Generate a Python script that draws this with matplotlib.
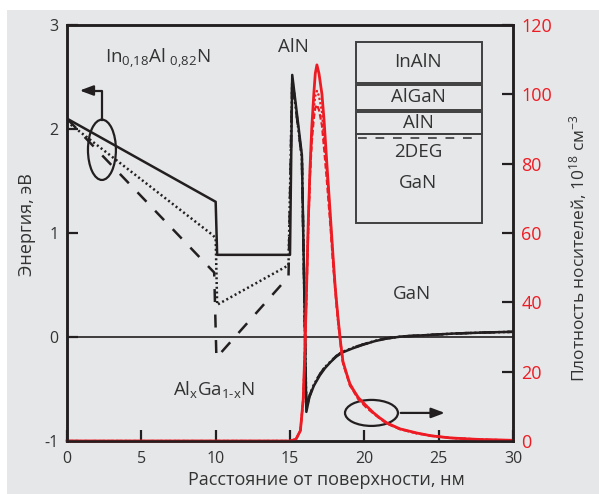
import matplotlib
matplotlib.use("Agg")
import matplotlib.pyplot as plt
from matplotlib.patches import Rectangle, Ellipse

plt.rcParams['font.family'] = ['Open Sans', 'DejaVu Sans']
plt.rcParams['mathtext.fontset'] = 'custom'
plt.rcParams['mathtext.rm'] = 'Open Sans'
plt.rcParams['mathtext.it'] = 'Open Sans'

# ---- data ----
# black (energy, left axis)
x_solid = [0, 10.0, 10.1, 15.0, 15.15, 15.8, 16.1, 16.3, 16.6, 17.0, 17.35, 17.7, 18.1, 18.5, 19.2, 19.9, 20.7, 21.5, 22.5, 24.4, 26, 28, 30]
e_solid = [2.10, 1.30, 0.79, 0.79, 2.52, 1.75, -0.72, -0.58, -0.47, -0.37, -0.30, -0.245, -0.19, -0.15, -0.11, -0.075, -0.04, -0.015, 0.005, 0.02, 0.033, 0.043, 0.05]

x_dot = [0, 9.8, 10.0, 10.1, 14.9, 15.15, 15.8, 16.1, 16.3, 16.6, 17.0, 17.35, 17.7, 18.1, 18.5, 19.2, 19.9, 20.7, 21.5, 22.5, 24.4, 26, 28, 30]
e_dot = [2.07, 0.98, 0.95, 0.31, 0.69, 2.48, 1.72, -0.70, -0.57, -0.46, -0.36, -0.29, -0.24, -0.185, -0.145, -0.105, -0.072, -0.038, -0.013, 0.005, 0.02, 0.033, 0.043, 0.05]

x_dash = [0, 9.9, 10.05, 14.9, 15.15, 15.8, 16.1, 16.3, 16.6, 17.0, 17.35, 17.7, 18.1, 18.5, 19.2, 19.9, 20.7, 21.5, 22.5, 24.4, 26, 28, 30]
e_dash = [2.10, 0.62, -0.20, 0.58, 2.48, 1.72, -0.70, -0.57, -0.46, -0.36, -0.29, -0.24, -0.185, -0.145, -0.105, -0.072, -0.038, -0.013, 0.005, 0.02, 0.033, 0.043, 0.05]

# red (carrier density, right axis)
x_n = [0, 15.0, 15.4, 15.7, 15.89, 16.0, 16.12, 16.22, 16.34, 16.46, 16.6, 16.7, 16.81, 16.95, 17.15, 17.3, 17.48, 17.7, 17.9, 18.05, 18.22, 18.4, 18.56, 18.8, 19.03, 19.3, 19.6, 20.17, 20.6, 21.0, 21.52, 22.4, 23.54, 24.5, 25.76, 27, 28, 30]
n_solid = [0, 0, 0.5, 3, 12, 26, 45, 62, 78, 90, 100, 106, 108.5, 106, 100, 92, 80, 66, 53, 44, 36, 28.5, 23, 19.5, 16.5, 14.5, 12.5, 10, 8.2, 6.8, 5.2, 3.5, 2.3, 1.5, 0.9, 0.6, 0.4, 0.2]
n_dash = [0, 0, 0.5, 3, 12, 25, 44, 60, 76, 86, 93, 96, 97, 95.5, 91, 84, 75, 63, 51, 43, 35, 28, 22.5, 19.2, 16, 14.2, 12, 9.5, 8.0, 6.6, 5.0, 3.4, 2.2, 1.5, 0.9, 0.6, 0.4, 0.2]
n_dot = [0, 0, 0.5, 3, 12, 26, 45, 61, 77, 88, 96, 99.5, 101, 99.5, 95, 87, 78, 65, 52, 43.5, 35.5, 28.3, 22.8, 19.4, 16.2, 14.3, 12.2, 9.8, 8.1, 6.7, 5.1, 3.45, 2.2, 1.5, 0.9, 0.6, 0.4, 0.2]

x_ticks = [0, 5, 10, 15, 20, 25, 30]
y_ticks = [-1, 0, 1, 2, 3]
n_ticks = [0, 20, 40, 60, 80, 100, 120]

BLACK = '#231f20'
RED = '#ed1c24'
BG = '#e6e7e8'
BOXC = '#404040'

fig = plt.figure(figsize=(5.99, 4.94), dpi=100)
fig.patch.set_facecolor('white')
fig.patches.append(Rectangle((7/599, 0), 1 - 7/599, 484/494, transform=fig.transFigure,
                             facecolor=BG, edgecolor='none', zorder=-10))

ax = fig.add_axes([67/599, 53/494, 446/599, 416/494])
ax.set_facecolor(BG)
ax.set_xlim(0, 30)
ax.set_ylim(-1, 3)

ax.axhline(0, color=BLACK, lw=1.2, zorder=1)
ax.plot(x_dash, e_dash, color=BLACK, lw=1.8, linestyle=(0, (5.2, 5.0)), zorder=2)
ax.plot(x_dot, e_dot, color=BLACK, lw=1.8, linestyle=(0, (0.8, 1.1)), zorder=2)
ax.plot(x_solid, e_solid, color=BLACK, lw=1.8, zorder=3, solid_joinstyle='round')

for s in ax.spines.values():
    s.set_linewidth(1.8)
    s.set_color(BLACK)
ax.set_xticks(x_ticks)
ax.set_yticks(y_ticks)
ax.set_xticklabels([str(v) for v in x_ticks])
ax.set_yticklabels([str(v) for v in y_ticks])
ax.tick_params(direction='in', length=8, width=1.6, color=BLACK, labelsize=11.5,
               labelcolor='#333333', pad=7)
ax.tick_params(axis='y', pad=6)

ax2 = ax.twinx()
ax2.set_ylim(0, 120)
ax2.set_yticks(n_ticks)
ax2.set_yticklabels([str(v) for v in n_ticks])
ax2.tick_params(direction='in', length=8, width=1.6, color=BLACK, labelsize=13,
                labelcolor=RED, pad=6)
for s in ax2.spines.values():
    s.set_linewidth(1.8)
    s.set_color(BLACK)
ax2.plot(x_n, n_dash, color=RED, lw=1.6, linestyle=(0, (2.5, 1.2)), clip_on=False)
ax2.plot(x_n, n_dot, color=RED, lw=1.6, linestyle=(0, (1.0, 1.0)), clip_on=False)
ax2.plot(x_n, n_solid, color=RED, lw=2.0, clip_on=False, solid_joinstyle='round')

# axis labels
fig.text(27/599, 1 - 225/494, 'Энергия, эВ', rotation=90, ha='center', va='center',
         fontsize=13, color='#333333')
fig.text(578/599, 1 - 248/494, 'Плотность носителей, 10$^{18}$ см$^{-3}$', rotation=90,
         ha='center', va='center', fontsize=12.5, color='#333333')
fig.text(326/599, 1 - 480/494, 'Расстояние от поверхности, нм', ha='center', va='center',
         fontsize=13, color='#333333')

# annotations
tc = '#333333'
ax.text(2.56, 2.63, r'In$_{\mathrm{0{,}18}}$Al $_{\mathrm{0{,}82}}$N', fontsize=13.5, color=tc,
        ha='left', va='baseline')
ax.text(15.2, 2.74, 'AlN', fontsize=13.5, color=tc, ha='center', va='baseline')
ax.text(7.1, -0.56, r'Al$_{\mathrm{x}}$Ga$_{\mathrm{1\text{-}x}}$N', fontsize=13.5, color=tc,
        ha='left', va='baseline')
ax.text(23.2, 0.37, 'GaN', fontsize=13.5, color=tc, ha='center', va='baseline')

# ellipses and arrows
ax.add_patch(Ellipse((2.35, 1.80), 1.88, 0.58, fill=False, edgecolor=BLACK, lw=1.6, zorder=4))
ax.plot([2.35, 2.35, 1.3], [2.09, 2.37, 2.37], color=BLACK, lw=1.6, zorder=4)
ax.annotate('', xy=(0.67, 2.37), xytext=(1.5, 2.37),
            arrowprops=dict(arrowstyle='-|>,head_length=0.8,head_width=0.3', color=BLACK, lw=1.6))
ax.add_patch(Ellipse((20.48, -0.73), 3.56, 0.25, fill=False, edgecolor=BLACK, lw=1.6, zorder=6))
ax.annotate('', xy=(25.6, -0.73), xytext=(22.26, -0.73),
            arrowprops=dict(arrowstyle='-|>,head_length=0.8,head_width=0.3', color=BLACK, lw=1.6),
            zorder=6)

# layer inset
def px2ax(px, py):
    return (px - 67) / 446, (441 - py) / 416

def box(px0, py0, px1, py1):
    x0, y0 = px2ax(px0, py1)
    x1, y1 = px2ax(px1, py0)
    ax2.add_patch(Rectangle((x0, y0), x1 - x0, y1 - y0, transform=ax.transAxes,
                            fill=False, edgecolor=BOXC, lw=1.4, zorder=7))

box(356, 42, 482, 83)
box(356, 85, 482, 110)
box(356, 112, 482, 134)
box(356, 134, 482, 223)
xa, ya = px2ax(358, 138)
xb, _ = px2ax(472, 138)
ax2.plot([xa, xb], [ya, ya], transform=ax.transAxes, color='#555555', lw=1.4,
         linestyle=(0, (4.5, 4.5)), zorder=7)
for label, py in [('InAlN', 62), ('AlGaN', 97), ('AlN', 123), ('2DEG', 152), ('GaN', 183)]:
    xx, yy = px2ax(418, py)
    ax2.text(xx, yy, label, transform=ax.transAxes, ha='center', va='center',
             fontsize=13.5, color=tc, zorder=8)

fig.savefig('out.png', dpi=100, facecolor=fig.get_facecolor())
